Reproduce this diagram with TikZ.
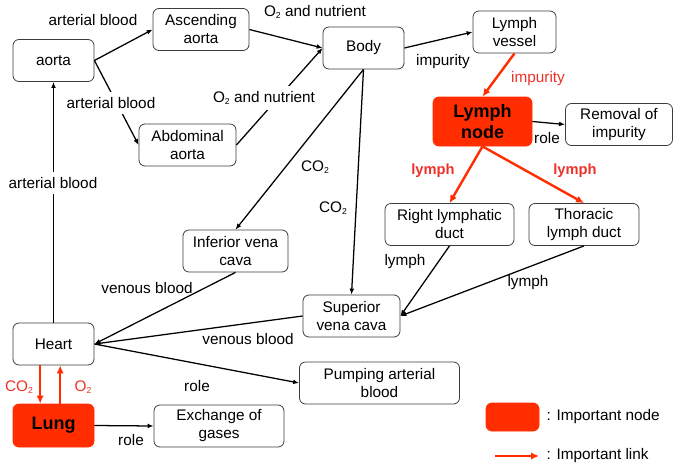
\documentclass[tikz,border=0pt]{standalone}
\usepackage{fontspec}
\setmainfont{Liberation Sans}
\usetikzlibrary{arrows.meta}
\definecolor{keyred}{RGB}{255,45,0}
\definecolor{keytext}{RGB}{238,48,40}
\definecolor{boxline}{RGB}{60,60,60}
\newcommand{\subtwo}{\raisebox{-0.25ex}{\fontsize{6.5}{7}\selectfont 2}}
\tikzset{
  box/.style={draw=boxline, line width=0.6pt, rounded corners=4.5pt, align=center,
    minimum height=31.5pt, inner sep=0pt, font=\fontsize{11.5}{13.5}\selectfont},
  keybox/.style={box, draw=keyred, fill=keyred, font=\fontsize{13.5}{16}\selectfont\bfseries},
  link/.style={line width=0.95pt, -{Latex[length=4.5pt,width=3.6pt]}},
  keylink/.style={draw=keyred, line width=1.8pt, -{Latex[length=6pt,width=5.5pt]}},
  lbl/.style={inner sep=1pt, font=\fontsize{11.5}{13.5}\selectfont},
  cutlbl/.style={lbl, fill=white, inner sep=4pt},
  keylbl/.style={lbl, text=keytext},
}
\begin{document}
\begin{tikzpicture}[x=0.75pt, y=-0.75pt]
\useasboundingbox (0,0) rectangle (673,467);
% boxes
\node[box, minimum width=60.75pt] (Aorta) at (53.5,60.5) {aorta};
\node[box, minimum width=72pt] (Asc) at (201,29.5) {Ascending\\aorta};
\node[box, minimum width=72.75pt] (Abd) at (187.5,145) {Abdominal\\aorta};
\node[box, minimum width=60.75pt] (Body) at (363.5,48) {Body};
\node[box, minimum width=62.25pt] (Vessel) at (514.5,32) {Lymph\\vessel};
\node[keybox, minimum width=74.25pt, minimum height=36.75pt] (LNode) at (482.5,121.5) {Lymph\\node};
\node[box, minimum width=80.25pt] (Removal) at (619,124.5) {Removal of\\impurity};
\node[box, minimum width=96.75pt] (RDuct) at (449.5,224.5) {Right lymphatic\\duct};
\node[box, minimum width=82.5pt] (TDuct) at (584,224.5) {Thoracic\\lymph duct};
\node[box, minimum width=78.75pt] (IVC) at (235.5,251) {Inferior vena\\cava};
\node[box, minimum width=72.75pt] (SVC) at (351.5,316) {Superior\\vena cava};
\node[box, minimum width=60.75pt] (Heart) at (53.5,344) {Heart};
\node[keybox, minimum width=60.75pt, minimum height=32.25pt] (Lung) at (53.5,425.5) {Lung};
\node[box, minimum width=97.5pt] (Gas) at (219,426) {Exchange of\\gases};
\node[box, minimum width=120pt] (Pump) at (379.5,383) {Pumping arterial\\blood};
% links
\draw[link] (Aorta.east) -- (Asc.west);
\draw[link] (Aorta.east) -- (Abd.west);
\draw[link] (Asc.east) -- (Body.west);
\draw[link] (Abd.east) -- (Body.west);
\draw[link] (Body.east) -- (Vessel.west);
\draw[keylink] (Vessel.south) -- (LNode.north);
\draw[link] (LNode.east) -- (Removal.west);
\draw[keylink] (LNode.south) -- (RDuct.north);
\draw[keylink] (LNode.south) -- (TDuct.north);
\draw[link] (Body.south) -- (IVC.north);
\draw[link] (Body.south) -- (SVC.north);
\draw[link] (RDuct.south) -- (SVC.east);
\draw[link] (TDuct.south) -- (SVC.east);
\draw[link] (IVC.south) -- (Heart.east);
\draw[link] (SVC.west) -- (Heart.east);
\draw[link] (Heart.east) -- (Pump.west);
\draw[link] (Heart.north) -- (Aorta.south);
\draw[keylink] ([xshift=-10pt]Heart.south) -- ([xshift=-10pt]Lung.north);
\draw[keylink] ([xshift=5pt]Lung.north) -- ([xshift=5pt]Heart.south);
\draw[link] (Lung.east) -- (Gas.west);
% labels
\node[lbl] (l1) at (93,20) {arterial blood};
\node[cutlbl] (l2) at (111,103) {arterial blood};
\node[cutlbl] (l3) at (53,183) {arterial blood};
\node[lbl] (l4) at (315,12) {O\subtwo\ and nutrient};
\node[cutlbl] (l5) at (264,98) {O\subtwo\ and nutrient};
\node[lbl] (l6) at (443,62) {impurity};
\node[keylbl] (l7) at (538,79) {impurity};
\node[lbl] (l8) at (547,138) {role};
\node[keylbl, font=\fontsize{11}{13}\selectfont\bfseries] (l9) at (433,171) {lymph};
\node[keylbl, font=\fontsize{11}{13}\selectfont\bfseries] (l10) at (575,171) {lymph};
\node[lbl] (l11) at (315,167) {CO\subtwo};
\node[lbl] (l12) at (333,208) {CO\subtwo};
\node[lbl] (l13) at (405,262) {lymph};
\node[lbl] (l14) at (528,283) {lymph};
\node[lbl] (l15) at (147,288) {venous blood};
\node[lbl] (l16) at (248,339) {venous blood};
\node[lbl] (l17) at (197,386) {role};
\node[keylbl] (l18) at (19,387) {CO\subtwo};
\node[keylbl] (l19) at (83,387) {O\subtwo};
\node[lbl] (l20) at (131,440) {role};
% legend
\node[keybox, minimum width=39.75pt, minimum height=21pt] (KeyBox) at (512.5,417) {};
\node[lbl, anchor=west] (KeyNode) at (545,417) {: Important node};
\coordinate (KeyA) at (495,456);
\coordinate (KeyB) at (539,456);
\draw[keylink] (KeyA) -- (KeyB);
\node[lbl, anchor=west] (KeyLink) at (545,456) {: Important link};
\end{tikzpicture}
\end{document}
